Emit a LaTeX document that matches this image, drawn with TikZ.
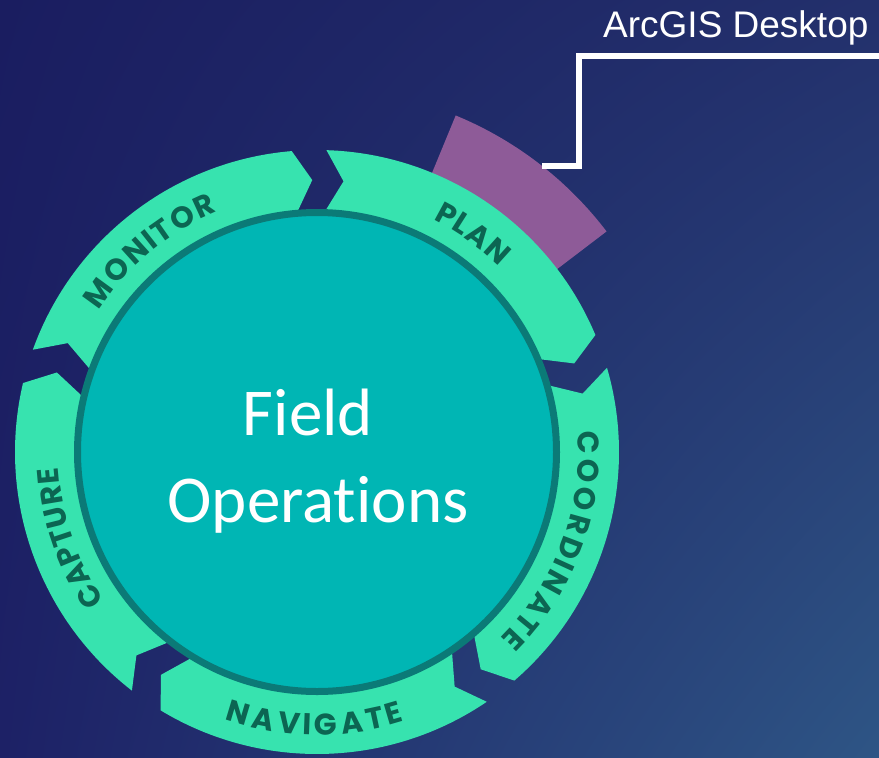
\documentclass[tikz,border=0pt]{standalone}
\usepackage{fontspec}
\usetikzlibrary{decorations.text,calc,shadings}
\newfontfamily\carlitofam{Carlito}[Ligatures={NoCommon}]
\newfontfamily\arialfam{Liberation Sans}
\newfontfamily\ringfam{Poppins}
\newcommand\ringfont{\ringfam\bfseries\fontsize{30}{30}\selectfont}
\definecolor{bgTL}{HTML}{1A1D60}
\definecolor{bgTR}{HTML}{23306C}
\definecolor{bgBL}{HTML}{1D2166}
\definecolor{bgBR}{HTML}{2E5585}
\definecolor{ringgreen}{HTML}{37E3AF}
\definecolor{labelgreen}{HTML}{0C6552}
\definecolor{corefill}{HTML}{00B6B4}
\definecolor{coreborder}{HTML}{0B7A77}
\definecolor{purp}{HTML}{8E5B98}
\tikzset{
  core/.style={circle, fill=corefill, draw=coreborder, line width=7pt, minimum size=479pt, inner sep=0pt},
  fieldtxt/.style={text=white, font=\carlitofam\fontsize{67}{67}\selectfont, inner sep=0pt},
  arctxt/.style={text=white, font=\arialfam\fontsize{37}{37}\selectfont, inner sep=0pt},
  conn/.style={draw=white, line width=5.5pt},
  ringlabel/.style={decoration={text effects along path, text={#1},
      text effects/.cd, text along path, fit text to path,
      characters={text=labelgreen, font=\ringfont},
      character widths={font=\ringfont, inner xsep=0pt}}, decorate}
}
\begin{document}
\begin{tikzpicture}
\useasboundingbox (0pt,0pt) rectangle (879pt,-758pt);
\shade[upper left=bgTL, upper right=bgTR, lower left=bgBL, lower right=bgBR] (0pt,0pt) rectangle (879pt,-758pt);
\begin{scope}[shift={(317pt,-452pt)}]
  \fill[purp] (37.3:290pt) arc[start angle=37.3, end angle=67.6, radius=290pt] -- (67.6:364pt) arc[start angle=67.6, end angle=37.3, radius=364pt] -- cycle;
  \coordinate (pa) at (51.8:364pt);
  \foreach \s in {91.5,19.5,-52.5,-124.5,-196.5} {
    \pgfmathsetmacro\aS{\s-3.3}
    \pgfmathsetmacro\aN{\s-7.1}
    \pgfmathsetmacro\aE{\s-72+3.3}
    \pgfmathsetmacro\aT{\s-72-0.5}
    \fill[ringgreen] (\aS:302pt) arc[start angle=\aS, end angle=\aE, radius=302pt]
      -- (\aT:272pt) -- (\aE:240pt) arc[start angle=\aE, end angle=\aS, radius=240pt]
      -- (\aN:272pt) -- cycle;
  }
\end{scope}
\node[core] (core) at (317pt,-452pt) {};
\node[fieldtxt, anchor=base] (field) at (308pt,-435pt) {Field};
\node[fieldtxt, anchor=base] (ops) at (318pt,-522pt) {Operations};
\begin{scope}[shift={(317pt,-452pt)}, font=\ringfont]
  \path[ringlabel={PLAN}] (63.5:260pt) arc[start angle=63.5, end angle=45.5, radius=260pt];
  \path[ringlabel={MONITOR}] (147:260pt) arc[start angle=147, end angle=112.5, radius=260pt];
  \path[ringlabel={COORDINATE}] (4.5:261pt) arc[start angle=4.5, end angle=-45.5, radius=261pt];
  \path[ringlabel={CAPTURE}] (215:259pt) arc[start angle=215, end angle=183.5, radius=259pt];
  \path[ringlabel={NAVIGATE}] (-109:283pt) arc[start angle=-109, end angle=-72, radius=283pt];
\end{scope}
\node[arctxt, anchor=base west] (arcgis) at (603pt,-37pt) {ArcGIS Desktop};
\coordinate (lineend) at (879pt,-56pt);
\draw[conn] (pa) -- ([xshift=37pt]pa) |- (lineend);
\end{tikzpicture}
\end{document}
